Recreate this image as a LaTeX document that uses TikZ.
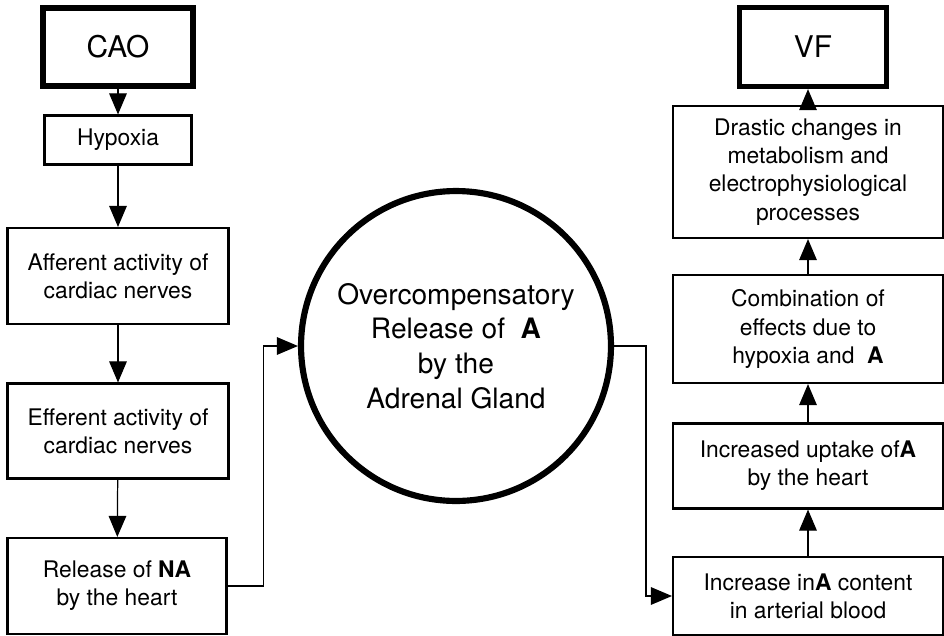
\documentclass[tikz,border=0pt]{standalone}
\usepackage{fontspec}
\setmainfont{TeX Gyre Heros}
\usetikzlibrary{arrows.meta}

\begin{document}
\begin{tikzpicture}[x=0.02cm,y=-0.02cm,
    box/.style={draw,line width=1.2pt,align=center,inner sep=2pt,
        font=\fontsize{13}{16}\selectfont},
    endbox/.style={draw,line width=3pt,align=center,
        font=\fontsize{17}{20}\selectfont},
    arr/.style={line width=0.7pt,-{Triangle[length=12pt,width=10pt]}}]
    \useasboundingbox (0,0) rectangle (944,636);

    % left column
    \node[endbox,minimum width=3cm,minimum height=1.56cm] (CAO) at (118,47) {CAO};
    \node[box,minimum width=2.94cm,minimum height=0.98cm] (Hypoxia) at (118,140) {Hypoxia};
    \node[box,minimum width=4.42cm,minimum height=1.92cm] (Afferent) at (118,276) {Afferent activity of\\cardiac nerves};
    \node[box,minimum width=4.42cm,minimum height=1.9cm] (Efferent) at (118,431) {Efferent activity of\\cardiac nerves};
    \node[box,minimum width=4.38cm,minimum height=1.92cm] (ReleaseNA) at (117,586) {Release of \textbf{NA}\\by the heart};

    % adrenal gland in the middle
    \node[circle,draw,line width=3.5pt,minimum size=6.2cm,align=center,
        font=\fontsize{16}{19.7}\selectfont] (Gland) at (456,346)
        {Overcompensatory\\Release of \ \textbf{A}\\by the\\Adrenal Gland};

    % right column
    \node[endbox,minimum width=2.94cm,minimum height=1.58cm] (VF) at (813,47) {VF};
    \node[box,minimum width=5.4cm,minimum height=2.64cm] (Drastic) at (808,172) {Drastic changes in\\metabolism and\\electrophysiological\\processes};
    \node[box,minimum width=5.4cm,minimum height=2.16cm] (Combination) at (808,329) {Combination of\\effects due to\\hypoxia and \ \textbf{A}};
    \node[box,minimum width=5.4cm,minimum height=1.7cm] (UptakeA) at (808,466) {Increased uptake of\textbf{A}\\by the heart};
    \node[box,minimum width=5.4cm,minimum height=1.56cm] (ContentA) at (808,596) {Increase in\textbf{A} content\\in arterial blood};

    \draw[arr] (CAO) -- (Hypoxia);
    \draw[arr] (Hypoxia) -- (Afferent);
    \draw[arr] (Afferent) -- (Efferent);
    \draw[arr] (Efferent) -- (ReleaseNA);
    \draw[arr] (ReleaseNA.east) -- ++(36,0) |- (Gland.west);
    \draw[arr] (Gland.east) -- ++(32,0) |- (ContentA.west);
    \draw[arr] (ContentA) -- (UptakeA);
    \draw[arr] (UptakeA) -- (Combination);
    \draw[arr] (Combination) -- (Drastic);
    \draw[arr] (Drastic.north) -- (Drastic.north |- VF.south);
\end{tikzpicture}
\end{document}
